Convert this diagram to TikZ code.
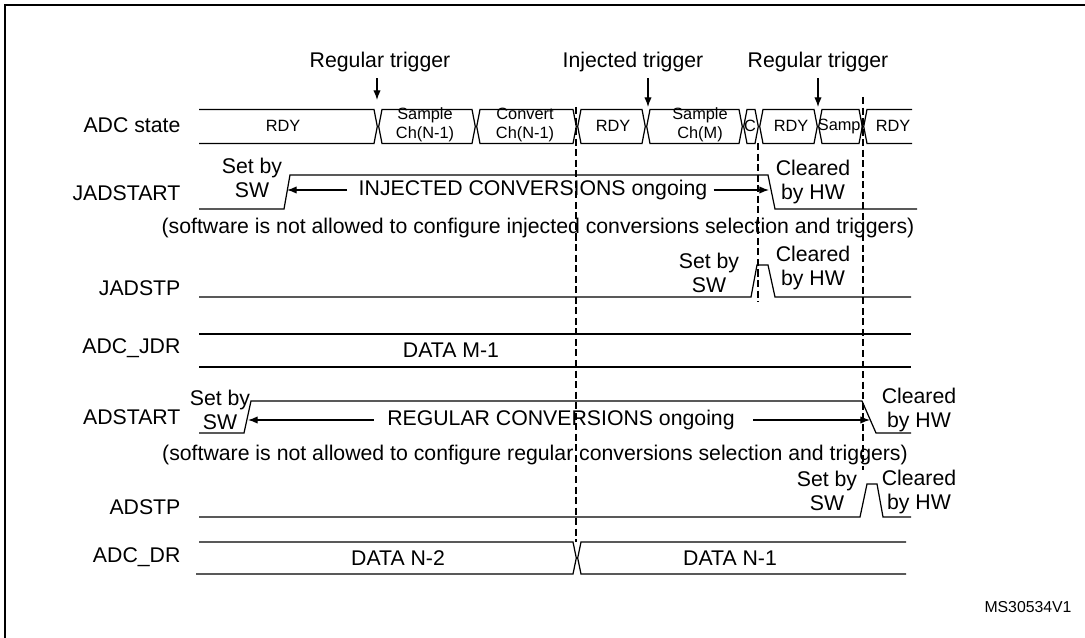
\documentclass[tikz,border=0pt]{standalone}
\usepackage{fontspec}
\setmainfont{Liberation Sans}
\usetikzlibrary{arrows.meta}
\begin{document}
\begin{tikzpicture}[x=0.02cm,y=-0.02cm,line width=0.7pt,
    >={Latex[length=5.5pt,width=4.2pt]},
    every node/.style={font=\fontsize{12.1}{14}\selectfont},
    sig/.style={anchor=east,inner sep=0pt},
    note/.style={align=center},
    bus/.style={align=center,font=\fontsize{9.3}{11}\selectfont},
    guide/.style={dash pattern=on 4pt off 2pt}]
  \useasboundingbox (0,0) rectangle (1085,638);
  \draw[line width=1.2pt] (5,640) -- (5,5) -- (1090,5);

  \node[sig] (nADC) at (181,125) {ADC state};
  \node[sig] (nJS) at (181,193) {JADSTART};
  \node[sig] (nJP) at (181,288) {JADSTP};
  \node[sig] (nJDR) at (181,348) {ADC\_JDR};
  \node[sig] (nAS) at (181,417) {ADSTART};
  \node[sig] (nAP) at (181,507) {ADSTP};
  \node[sig] (nDR) at (181,557) {ADC\_DR};

  \def\busT{109.5} \def\busB{143.5} \def\busM{126.5}
  \draw (199,\busT) -- (374,\busT) -- (377.3,\busM) -- (374,\busB) -- (199,\busB);
  \foreach \a/\b in {378/476,476/577,577/646,646/743,743/759,759/818,818/863}
    \draw ({\a+0.7},\busM) -- ({\a+4},\busT) -- ({\b-4},\busT) -- ({\b-0.7},\busM) -- ({\b-4},\busB) -- ({\a+4},\busB) -- cycle;
  \draw (912,\busT) -- (867,\busT) -- (863.7,\busM) -- (867,\busB) -- (912,\busB);
  \node[bus] (s1) at (283,126) {RDY};
  \node[bus] (s2) at (425,125) {Sample\\Ch(N-1)};
  \node[bus] (s3) at (525,125) {Convert\\Ch(N-1)};
  \node[bus] (s4) at (613,126) {RDY};
  \node[bus] (s5) at (700,125) {Sample\\Ch(M)};
  \node[bus] (s6) at (750,126) {C};
  \node[bus] (s7) at (791,126) {RDY};
  \node[bus] (s8) at (841,126) {Sampl};
  \node[bus] (s9) at (893,126) {RDY};

  \draw[guide] (576,107) -- (576,542);
  \draw[guide] (758,143) -- (758,302);
  \draw[guide] (863,97) -- (863,470);

  \node (trR1) at (380,62) {Regular trigger};
  \node (trI) at (633,62) {Injected trigger};
  \node (trR2) at (818,62) {Regular trigger};
  \coordinate (R1) at (377,100);
  \coordinate (I1) at (648,107);
  \coordinate (R2) at (818,107);
  \draw[->] (R1 |- trR1.south) -- (R1);
  \draw[->] (I1 |- trI.south) -- (I1);
  \draw[->] (R2 |- trR2.south) -- (R2);

  \node[note] (jsSet) at (252,178) {Set by\\SW};
  \draw (199,209) -- (284,209) -- (290,175) -- (768,175) -- (775,209) -- (917,209);
  \node (jsTxt) at (533,190) {INJECTED CONVERSIONS ongoing};
  \coordinate (jsL) at (287,190);
  \coordinate (jsR) at (769,190);
  \draw[->] ([xshift=-3pt]jsTxt.west) -- (jsL);
  \draw[->] (jsTxt.east) -- (jsR);
  \node[note] (jsClr) at (813,182) {Cleared\\by HW};
  \node (jsNote) at (538,228) {(software is not allowed to configure injected conversions selection and triggers)};

  \draw (199,297) -- (751,297) -- (757,265) -- (768,265) -- (775,297) -- (911,297);
  \node[note] (jpSet) at (709,273) {Set by\\SW};
  \node[note] (jpClr) at (813,268) {Cleared\\by HW};

  \draw (199,334) -- (911,334);
  \draw (199,367) -- (911,367);
  \node (jdr) at (451,350) {DATA M-1};

  \node[note] (asSet) at (220,410) {Set by\\SW};
  \draw (199,433) -- (244,433) -- (251,401) -- (862,401) -- (876,433) -- (911,433);
  \node (asTxt) at (561,420) {REGULAR CONVERSIONS ongoing};
  \coordinate (asL) at (248,420);
  \coordinate (asR) at (870,420);
  \draw[->] ([xshift=-4pt]asTxt.west) -- (asL);
  \draw[->] ([xshift=7pt]asTxt.east) -- (asR);
  \node[note] (asClr) at (919,410) {Cleared\\by HW};
  \node (asNote) at (535,455) {(software is not allowed to configure regular conversions selection and triggers)};

  \draw (199,517) -- (860,517) -- (867,484) -- (877,484) -- (883,517) -- (911,517);
  \node[note] (apSet) at (827,491) {Set by\\SW};
  \node[note] (apClr) at (919,492) {Cleared\\by HW};

  \draw (199,542) -- (573,542) -- (576.3,558) -- (573,574) -- (196,574);
  \draw (906,542) -- (581,542) -- (577.7,558) -- (581,574) -- (906,574);
  \node (dr1) at (398,558) {DATA N-2};
  \node (dr2) at (730,558) {DATA N-1};

  \node[anchor=east,font=\fontsize{9}{10}\selectfont] (ms) at (1078,607) {MS30534V1};
\end{tikzpicture}
\end{document}
